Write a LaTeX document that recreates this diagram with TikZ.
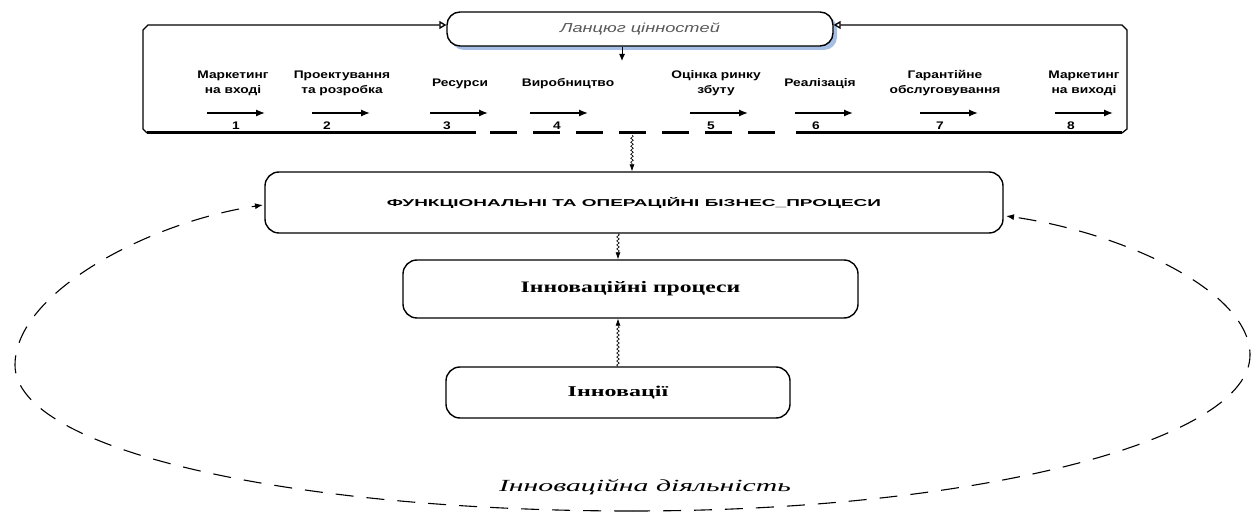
\documentclass[tikz,border=0pt]{standalone}
\usepackage{fontspec}
\usepackage{graphicx}
\setmainfont{Liberation Serif}
\setsansfont{Liberation Sans}
\usetikzlibrary{arrows.meta,decorations.pathmorphing,shadows}
\definecolor{shadowblue}{RGB}{165,190,228}
\newcommand{\hs}[1]{\scalebox{1.25}[1]{#1}}
\newcommand{\twol}[2]{\hs{\begin{tabular}{@{}c@{}}#1\\[3pt]#2\end{tabular}}}
\begin{document}
\begin{tikzpicture}[x=1pt,y=-1pt,
  itemlbl/.style={font=\sffamily\bfseries\fontsize{11}{12}\selectfont, inner sep=0pt, align=center},
  numlbl/.style={font=\sffamily\bfseries\fontsize{11}{12}\selectfont, inner sep=0pt},
  stagearrow/.style={line width=1.3pt, -{Latex[length=9pt,width=7pt]}},
  procbox/.style={draw, line width=1.4pt, rounded corners=14pt, inner sep=0pt},
  frameline/.style={line width=1.3pt},
  framebase/.style={line width=3pt},
  wavy/.style={line width=0.6pt, decorate,
     decoration={snake, amplitude=1.3pt, segment length=4pt, post length=7pt},
     -{Latex[length=7pt,width=5pt]}},
  cycle/.style={line width=1.1pt, dash pattern=on 18pt off 13pt},
  cyclearrow/.style={-{Latex[length=8pt,width=6pt]}}
]
\useasboundingbox (0,0) rectangle (1259,518);

% value chain title
\node[draw, line width=1.4pt, rounded corners=13pt, fill=white,
      minimum width=386pt, minimum height=34pt, inner sep=0pt,
      drop shadow={shadow xshift=4pt, shadow yshift=-4pt, fill=shadowblue, opacity=1},
      font=\sffamily\itshape\fontsize{13}{14}\selectfont, text=black!65]
  (chain) at (640,29) {\scalebox{1.4}[1]{Ланцюг цінностей}};

% frame
\coordinate (fBL) at (147,133);
\coordinate (fBR) at (1122,133);
\draw[frameline, -{Triangle[open,length=7pt,width=8pt]}]
  (fBL) -- (143,129) -- (143,30) -- (148,25) -- (chain.west |- 0,25);
\draw[frameline, -{Triangle[open,length=7pt,width=8pt]}]
  (fBR) -- (1127,129) -- (1127,30) -- (1122,25) -- (chain.east |- 0,25);
\draw[framebase] (fBL) -- (476,133);
\draw[framebase, dash pattern=on 27pt off 16pt] (490,133) -- (786,133);
\draw[framebase] (796,133) -- (fBR);

% arrow from title into chain
\coordinate (chainin) at (622,61);
\draw[line width=1pt, -{Latex[length=7pt,width=6pt]}] (chain.south -| chainin) -- (chainin);

% stages
\node[itemlbl] (l1) at (233,84) {\twol{Маркетинг}{на вході}};
\node[itemlbl] (l2) at (342,84) {\twol{Проектування}{та розробка}};
\node[itemlbl] (l3) at (460,84) {\hs{Ресурси}};
\node[itemlbl] (l4) at (568,84) {\hs{Виробництво}};
\node[itemlbl] (l5) at (716,84) {\twol{Оцінка ринку}{збуту}};
\node[itemlbl] (l6) at (820,84) {\hs{Реалізація}};
\node[itemlbl] (l7) at (945,84) {\twol{Гарантійне}{обслуговування}};
\node[itemlbl] (l8) at (1084,84) {\twol{Маркетинг}{на виході}};

\foreach \i/\xa/\xn in {1/207/236, 2/312/327, 3/430/447, 4/530/557, 5/690/711, 6/795/816, 7/920/940, 8/1055/1071}{
  \coordinate (a\i s) at (\xa,113);
  \coordinate (a\i e) at (\xa+58,113);
  \draw[stagearrow] (a\i s) -- (a\i e);
  \node[numlbl] (n\i) at (\xn,126) {\hs{\i}};
}

% process boxes
\node[procbox, minimum width=738pt, minimum height=61pt,
      font=\sffamily\bfseries\fontsize{10}{11}\selectfont]
  (func) at (634,202.5) {\scalebox{1.9}[1]{ФУНКЦІОНАЛЬНІ ТА ОПЕРАЦІЙНІ БІЗНЕС\_ПРОЦЕСИ}};
\node[procbox, minimum width=455pt, minimum height=58pt,
      font=\bfseries\fontsize{16}{17}\selectfont]
  (proc) at (630.5,289) {\scalebox{1.48}[1]{Інноваційні процеси}};
\node[procbox, minimum width=344pt, minimum height=51pt,
      font=\bfseries\fontsize{15}{16}\selectfont]
  (innov) at (618,392.5) {\scalebox{1.6}[1]{Інновації}};

% connectors
\coordinate (framebot) at (632,135);
\draw[wavy] (framebot) -- (func.north -| framebot);
\draw[wavy] (func.south -| innov.north) -- (proc.north -| innov.north);
\draw[wavy] (innov.north) -- (proc.south -| innov.north);

% innovation activity cycle
\coordinate (cB) at (632,511);
\coordinate (cL) at (15,365);
\coordinate (cR) at (1250,355);
\coordinate (cLe) at (263,205);
\coordinate (cRe) at (1006,216);
\draw[cycle, cyclearrow] (cB) .. controls (290,511) and (15,450) .. (cL)
   .. controls (15,292) and (150,222) .. (cLe);
\draw[cycle, cyclearrow] (cB) .. controls (980,511) and (1250,440) .. (cR)
   .. controls (1250,290) and (1120,232) .. (cRe);

\node[font=\itshape\fontsize{17}{18}\selectfont, inner sep=0pt] (act) at (645,487) {\scalebox{1.75}[1]{Інноваційна діяльність}};
\end{tikzpicture}
\end{document}
